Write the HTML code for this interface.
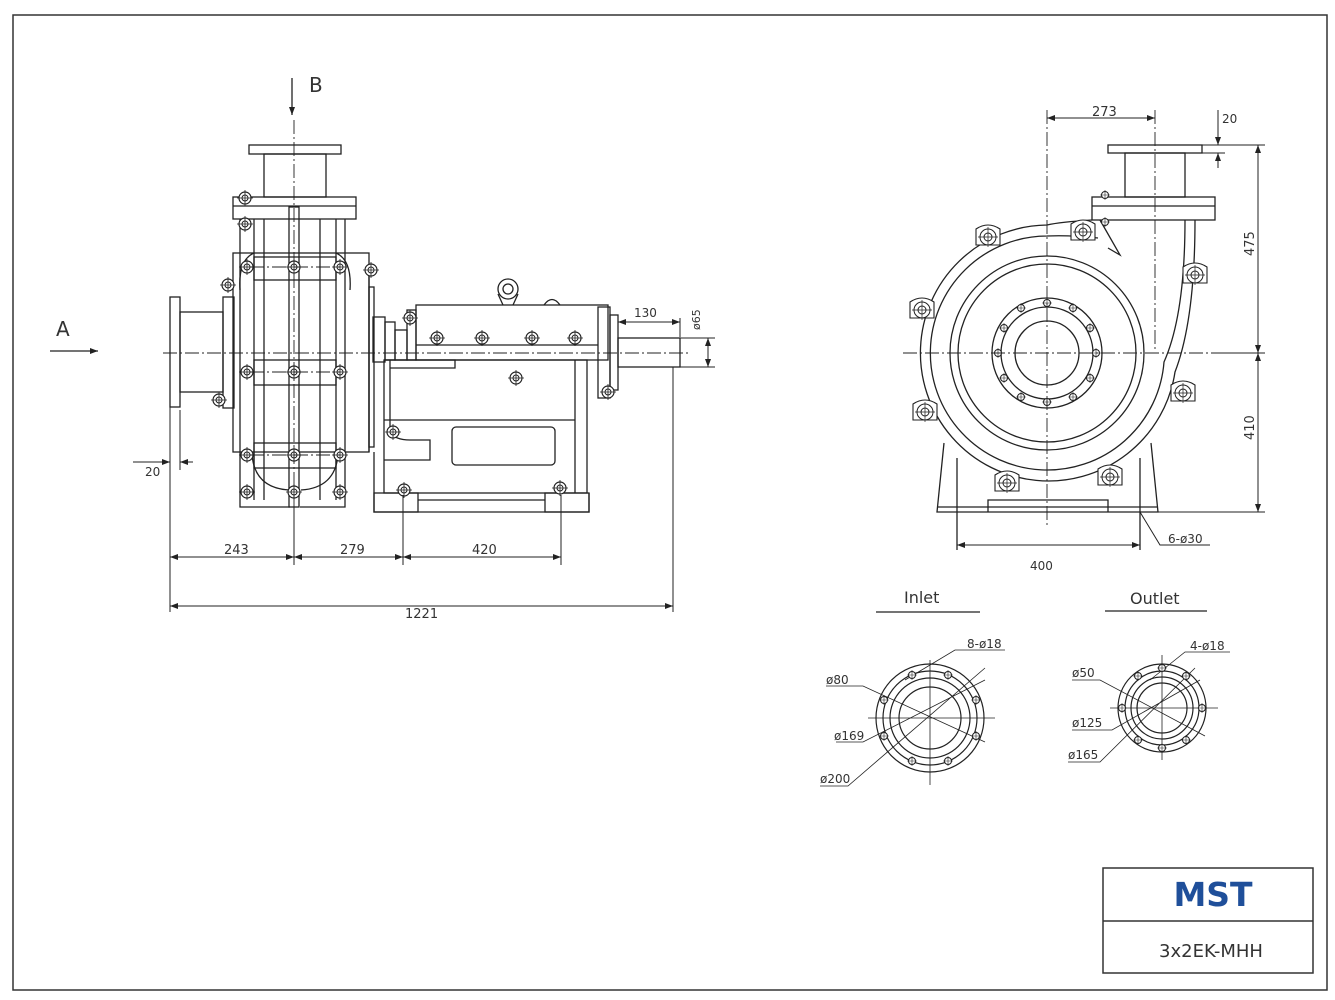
<!DOCTYPE html>
<html><head><meta charset="utf-8"><style>
html,body{margin:0;padding:0;background:#fff}
svg{display:block}
text{font-family:"DejaVu Sans","Liberation Sans",sans-serif;fill:#333}
</style></head><body>
<svg width="1335" height="1000" viewBox="0 0 1335 1000" xmlns="http://www.w3.org/2000/svg">
<defs>
<marker id="ar" markerWidth="8" markerHeight="6" refX="8" refY="3" orient="auto-start-reverse" markerUnits="userSpaceOnUse"><path d="M0,0 L8,3 L0,6 z" fill="#222"/></marker>
<g id="bolt"><circle r="6" fill="#fff" stroke="#222" stroke-width="1.2"/><circle r="3" fill="none" stroke="#222"/><path d="M-8,0H8M0,-8V8" stroke="#222" stroke-width="0.8"/></g>
<g id="lug"><path d="M-12,-8 Q0,-16 12,-8 L12,8 L-12,8 Z" fill="#fff" stroke="#222" stroke-width="1.1"/><circle r="8" fill="#fff" stroke="#222"/><circle r="4" fill="none" stroke="#222"/><path d="M-10,0H10M0,-10V10" stroke="#222" stroke-width="0.7"/></g>
<g id="sb"><circle r="3.5" fill="#fff" stroke="#222"/><path d="M-5,0H5M0,-5V5" stroke="#222" stroke-width="0.6"/></g>
</defs>
<rect width="1335" height="1000" fill="#fff"/>
<rect x="13" y="15" width="1314" height="975" fill="none" stroke="#333" stroke-width="1.5"/>

<g fill="none" stroke="#222" stroke-width="1.3">
<!-- LEFT VIEW -->
<!-- arrow A and B -->
<line x1="50" y1="351" x2="98" y2="351" marker-end="url(#ar)"/>
<line x1="292" y1="78" x2="292" y2="115" marker-end="url(#ar)"/>
<!-- top discharge -->
<rect x="249" y="145" width="92" height="9"/>
<rect x="264" y="154" width="62" height="43"/>
<rect x="233" y="197" width="123" height="22"/>
<line x1="233" y1="206" x2="356" y2="206"/>
<!-- casing -->
<rect x="233" y="253" width="136" height="199"/>
<path d="M240,219 V507 H290 M300,507 H345 V219"/>
<path d="M254,219 V500 M336,219 V500 M264,219 V500 M320,219 V500"/>
<rect x="289" y="207" width="10" height="300"/>
<path d="M254,253 Q238,260 240,290 M336,253 Q352,260 350,290"/>
<path d="M252,455 Q255,488 289,490 M338,455 Q335,488 301,490"/>
<rect x="254" y="257" width="82" height="23"/>
<rect x="254" y="360" width="82" height="25"/>
<rect x="254" y="443" width="82" height="25"/>
<line x1="369" y1="270" x2="369" y2="452"/>
<rect x="369" y="287" width="5" height="160"/>
<!-- inlet -->
<rect x="170" y="297" width="10" height="110"/>
<rect x="180" y="312" width="43" height="80"/>
<rect x="223" y="297" width="11" height="111"/>
<!-- coupling/adapter -->
<rect x="373" y="317" width="12" height="45"/>
<rect x="385" y="322" width="10" height="38"/>
<rect x="395" y="330" width="12" height="30"/>
<rect x="407" y="310" width="9" height="50"/>
<!-- bearing housing -->
<rect x="416" y="305" width="192" height="55"/>
<line x1="416" y1="345" x2="598" y2="345"/>
<rect x="598" y="307" width="12" height="91"/>
<rect x="610" y="315" width="8" height="75"/>
<circle cx="508" cy="289" r="10"/><circle cx="508" cy="289" r="5"/>
<path d="M498,294 L503,305 M518,294 L513,305"/>
<path d="M544,305 Q552,294 560,305"/>
<!-- shaft -->
<rect x="618" y="338" width="62" height="29"/>
<!-- frame -->
<path d="M384,360 H455 V368 H390 M390,360 V432 Q395,440 410,440 H430 V460 H384"/>
<rect x="384" y="360" width="203" height="133"/>
<line x1="575" y1="360" x2="575" y2="493"/>
<line x1="384" y1="420" x2="575" y2="420"/>
<rect x="452" y="427" width="103" height="38" rx="4"/>
<path d="M374,452 V512 H589 V493"/>
<rect x="374" y="493" width="44" height="19"/>
<rect x="545" y="493" width="44" height="19"/>
<line x1="418" y1="500" x2="545" y2="500"/>
</g>
<!-- bolts left -->
<g>
<use href="#bolt" x="247" y="267"/><use href="#bolt" x="340" y="267"/><use href="#bolt" x="294" y="267"/>
<use href="#bolt" x="247" y="372"/><use href="#bolt" x="340" y="372"/><use href="#bolt" x="294" y="372"/>
<use href="#bolt" x="247" y="455"/><use href="#bolt" x="340" y="455"/><use href="#bolt" x="294" y="455"/>
<use href="#bolt" x="247" y="492"/><use href="#bolt" x="340" y="492"/><use href="#bolt" x="294" y="492"/>
<use href="#bolt" x="245" y="198"/><use href="#bolt" x="245" y="224"/>
<use href="#bolt" x="228" y="285"/><use href="#bolt" x="371" y="270"/><use href="#bolt" x="219" y="400"/>
<use href="#bolt" x="437" y="338"/><use href="#bolt" x="482" y="338"/><use href="#bolt" x="532" y="338"/><use href="#bolt" x="575" y="338"/>
<use href="#bolt" x="516" y="378"/><use href="#bolt" x="393" y="432"/>
<use href="#bolt" x="404" y="490"/><use href="#bolt" x="560" y="488"/>
<use href="#bolt" x="608" y="392"/><use href="#bolt" x="410" y="318"/>
</g>
<g fill="none" stroke="#222" stroke-width="0.9" stroke-dasharray="14,3,2,3">
<line x1="163" y1="353" x2="690" y2="353"/>
<line x1="294" y1="120" x2="294" y2="520"/>
<line x1="250" y1="267" x2="340" y2="267"/><line x1="250" y1="372" x2="340" y2="372"/><line x1="250" y1="455" x2="340" y2="455"/>
</g>
<!-- left dims -->
<g fill="none" stroke="#222" stroke-width="1">
<path d="M170,407 V612 M294,507 V565 M403,495 V565 M561,495 V565 M673,367 V612 M180,410 V470"/>
<line x1="170" y1="557" x2="294" y2="557" marker-start="url(#ar)" marker-end="url(#ar)"/>
<line x1="294" y1="557" x2="403" y2="557" marker-start="url(#ar)" marker-end="url(#ar)"/>
<line x1="403" y1="557" x2="561" y2="557" marker-start="url(#ar)" marker-end="url(#ar)"/>
<line x1="170" y1="606" x2="673" y2="606" marker-start="url(#ar)" marker-end="url(#ar)"/>
<line x1="133" y1="462" x2="170" y2="462" marker-end="url(#ar)"/>
<line x1="193" y1="462" x2="180" y2="462" marker-end="url(#ar)"/>
<path d="M618,330 V315 M680,337 V318"/>
<line x1="618" y1="322" x2="680" y2="322" marker-start="url(#ar)" marker-end="url(#ar)"/>
<path d="M680,338 H715 M680,367 H715"/>
<line x1="708" y1="338" x2="708" y2="367" marker-start="url(#ar)" marker-end="url(#ar)"/>
</g>
<g font-size="13">
<text x="56" y="336" font-size="20">A</text>
<text x="309" y="92" font-size="20">B</text>
<text x="224" y="554">243</text>
<text x="340" y="554">279</text>
<text x="472" y="554">420</text>
<text x="405" y="618">1221</text>
<text x="145" y="476" font-size="12">20</text>
<text x="634" y="317" font-size="12">130</text>
<text x="0" y="0" font-size="11" transform="translate(700,330) rotate(-90)">ø65</text>
</g>

<!-- RIGHT VIEW -->
<g fill="none" stroke="#222" stroke-width="1.3">
<rect x="1108" y="145" width="94" height="8"/>
<rect x="1125" y="153" width="60" height="44"/>
<rect x="1092" y="197" width="123" height="23"/>
<line x1="1092" y1="206" x2="1215" y2="206"/>
<!-- volute -->
<path d="M1092,220 Q1060,222 1047,225 A128,128 0 1 0 1175,372 Q1195,320 1195,220"/>
<path d="M1098,238 Q1070,235 1047,236 A117,117 0 1 0 1164,362 Q1185,315 1185,220"/>
<path d="M1100,220 L1120,255 L1108,248"/>
<circle cx="1047" cy="353" r="97"/>
<circle cx="1047" cy="353" r="89"/>
<circle cx="1047" cy="353" r="55"/>
<circle cx="1047" cy="353" r="46"/>
<circle cx="1047" cy="353" r="32"/>
<!-- base -->
<path d="M944,443 L937,512 H1158 L1151,443"/>
<path d="M988,512 V500 H1108 V512"/>
<line x1="937" y1="507" x2="1158" y2="507"/>
<path d="M957,458 V550 M1140,458 V550"/>
</g>
<g>
<use href="#lug" x="988" y="237"/><use href="#lug" x="1083" y="232"/><use href="#lug" x="922" y="310"/><use href="#lug" x="925" y="412"/>
<use href="#lug" x="1007" y="483"/><use href="#lug" x="1110" y="477"/><use href="#lug" x="1183" y="393"/><use href="#lug" x="1195" y="275"/>
<use href="#sb" x="1047" y="303"/><use href="#sb" x="1073" y="308"/><use href="#sb" x="1090" y="328"/><use href="#sb" x="1096" y="353"/>
<use href="#sb" x="1090" y="378"/><use href="#sb" x="1073" y="397"/><use href="#sb" x="1047" y="402"/><use href="#sb" x="1021" y="397"/>
<use href="#sb" x="1004" y="378"/><use href="#sb" x="998" y="353"/><use href="#sb" x="1004" y="328"/><use href="#sb" x="1021" y="308"/>
<use href="#sb" x="1105" y="195"/><use href="#sb" x="1105" y="222"/>
</g>
<g fill="none" stroke="#222" stroke-width="0.9" stroke-dasharray="14,3,2,3">
<line x1="903" y1="353" x2="1215" y2="353"/>
<line x1="1047" y1="110" x2="1047" y2="525"/>
<line x1="1155" y1="110" x2="1155" y2="352"/>
</g>
<g fill="none" stroke="#222" stroke-width="1">
<line x1="1047" y1="118" x2="1155" y2="118" marker-start="url(#ar)" marker-end="url(#ar)"/>
<path d="M1202,145 H1265 M1215,353 H1265 M1158,512 H1265"/>
<line x1="1258" y1="145" x2="1258" y2="353" marker-start="url(#ar)" marker-end="url(#ar)"/>
<line x1="1258" y1="353" x2="1258" y2="512" marker-start="url(#ar)" marker-end="url(#ar)"/>
<path d="M1202,153 H1225"/>
<line x1="1218" y1="110" x2="1218" y2="145" marker-end="url(#ar)"/>
<line x1="1218" y1="168" x2="1218" y2="153" marker-end="url(#ar)"/>
<line x1="957" y1="545" x2="1140" y2="545" marker-start="url(#ar)" marker-end="url(#ar)"/>
<path d="M1140,512 L1160,545 H1210"/>
</g>
<g font-size="13">
<text x="1092" y="116">273</text>
<text x="1222" y="123" font-size="12">20</text>
<text transform="translate(1254,256) rotate(-90)">475</text>
<text transform="translate(1254,440) rotate(-90)">410</text>
<text x="1030" y="570" font-size="12">400</text>
<text x="1168" y="543" font-size="12">6-ø30</text>
</g>

<!-- FLANGES -->
<g font-size="16"><text x="904" y="603">Inlet</text><text x="1130" y="604">Outlet</text></g>
<g fill="none" stroke="#222" stroke-width="1.2">
<line x1="876" y1="612" x2="980" y2="612"/><line x1="1105" y1="611" x2="1207" y2="611"/>
<circle cx="930" cy="718" r="54"/><circle cx="930" cy="718" r="47"/><circle cx="930" cy="718" r="40"/><circle cx="930" cy="718" r="31"/>
<circle cx="1162" cy="708" r="44"/><circle cx="1162" cy="708" r="37"/><circle cx="1162" cy="708" r="31"/><circle cx="1162" cy="708" r="25"/>
</g>
<g stroke="#222" stroke-width="0.8" fill="none">
<path d="M868,718 H995 M930,660 V785 M1110,708 H1218 M1162,655 V760"/>
<path d="M826,686 L863,686 L985,742 M836,742 L863,742 L985,680 M820,786 L848,786 L985,668 M905,680 L955,650 H1005"/>
<path d="M1072,680 L1100,680 L1205,736 M1072,730 L1112,730 L1200,680 M1068,762 L1100,762 L1195,668 M1150,680 L1185,652 H1230"/>
</g>
<g>
<use href="#sb" x="948" y="675"/><use href="#sb" x="912" y="675"/><use href="#sb" x="884" y="700"/><use href="#sb" x="884" y="736"/>
<use href="#sb" x="912" y="761"/><use href="#sb" x="948" y="761"/><use href="#sb" x="976" y="736"/><use href="#sb" x="976" y="700"/>
<use href="#sb" x="1162" y="668"/><use href="#sb" x="1122" y="708"/><use href="#sb" x="1162" y="748"/><use href="#sb" x="1202" y="708"/>
<use href="#sb" x="1138" y="676"/><use href="#sb" x="1186" y="676"/><use href="#sb" x="1138" y="740"/><use href="#sb" x="1186" y="740"/>
</g>
<g font-size="12">
<text x="826" y="684">ø80</text><text x="834" y="740">ø169</text><text x="820" y="783">ø200</text><text x="967" y="648">8-ø18</text>
<text x="1072" y="677">ø50</text><text x="1072" y="727">ø125</text><text x="1068" y="759">ø165</text><text x="1190" y="650">4-ø18</text>
</g>

<!-- title block -->
<g fill="none" stroke="#333" stroke-width="1.5">
<rect x="1103" y="868" width="210" height="105"/><line x1="1103" y1="921" x2="1313" y2="921"/>
</g>
<text x="1213" y="906" text-anchor="middle" font-family="Liberation Sans" font-weight="bold" font-size="33" style="fill:#1f4f9a">MST</text>
<text x="1211" y="957" text-anchor="middle" font-family="Liberation Sans" font-size="18" style="fill:#333">3x2EK-MHH</text>
</svg>
</body></html>
